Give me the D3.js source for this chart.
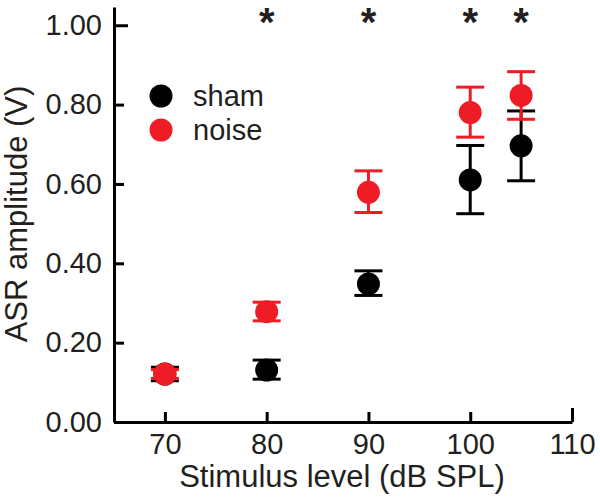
<!DOCTYPE html>
<html><head><meta charset="utf-8">
<script src="https://cdn.jsdelivr.net/npm/d3@7"></script>
<style>
body{margin:0;background:#fff;}
text{font-family:"Liberation Sans",Arial,sans-serif;fill:#231f20;}
</style></head>
<body><svg id="c" width="600" height="499"></svg>
<script>
const levels = [70, 80, 90, 100, 105];
const shamMean = [0.121, 0.131, 0.348, 0.610, 0.696];
const shamUpper = [0.138, 0.156, 0.381, 0.697, 0.784];
const shamLower = [0.104, 0.108, 0.319, 0.525, 0.608];
const noiseMean = [0.121, 0.278, 0.579, 0.780, 0.823];
const noiseUpper = [0.132, 0.302, 0.633, 0.844, 0.883];
const noiseLower = [0.110, 0.255, 0.528, 0.718, 0.763];
const signifLevels = [80, 90, 100, 105];
const xTicks = [70, 80, 90, 100, 110];
const yTicks = [0, 0.2, 0.4, 0.6, 0.8, 1.0];
const seriesNames = ["sham", "noise"];
const seriesColors = ["#000000", "#ee1c24"];

const series = [
  {name: seriesNames[0], color: seriesColors[0], mean: shamMean, up: shamUpper, lo: shamLower},
  {name: seriesNames[1], color: seriesColors[1], mean: noiseMean, up: noiseUpper, lo: noiseLower}
];

const svg = d3.select("#c");
const x = d3.scaleLinear().domain([65, 110]).range([114, 572]);
const y = d3.scaleLinear().domain([0, 1.046]).range([422, 7]);

// axes
const yAxis = d3.axisLeft(y).tickValues(yTicks).tickFormat(d3.format(".2f")).tickSizeInner(-10).tickSizeOuter(0).tickPadding(12);
const gy = svg.append("g").attr("transform", `translate(${x.range()[0]},0)`).call(yAxis);
const xAxis = d3.axisBottom(x).tickValues(xTicks).tickFormat(d3.format("d")).tickSizeInner(-10).tickSizeOuter(0).tickPadding(11);
const gx = svg.append("g").attr("transform", `translate(0,${y.range()[0]})`).call(xAxis);

[gx, gy].forEach(g => {
  g.select(".domain").attr("stroke", "#000").attr("stroke-width", 3);
  g.selectAll(".tick line").attr("stroke", "#000").attr("stroke-width", 3);
  g.selectAll(".tick text").style("font-size", "29px").attr("fill", "#231f20");
});
gy.selectAll(".tick line").filter(d => d === 1.0).attr("x2", 14);
gx.selectAll(".tick line").filter(d => d === 110).attr("y2", -14);

// axis titles
svg.append("text").attr("x", 342).attr("y", 487).attr("text-anchor", "middle")
  .style("font-size", "31px").text("Stimulus level (dB SPL)");
svg.append("text").attr("transform", "translate(27,214) rotate(-90)").attr("text-anchor", "middle")
  .style("font-size", "31px").text("ASR amplitude (V)");

// error bars + points
const capW = 14;
series.forEach(s => {
  const g = svg.append("g");
  levels.forEach((lv, i) => {
    const cx = x(lv);
    g.append("line").attr("x1", cx).attr("x2", cx).attr("y1", y(s.up[i])).attr("y2", y(s.lo[i]))
      .attr("stroke", s.color).attr("stroke-width", 3);
    [s.up[i], s.lo[i]].forEach(v => {
      g.append("line").attr("x1", cx - capW).attr("x2", cx + capW).attr("y1", y(v)).attr("y2", y(v))
        .attr("stroke", s.color).attr("stroke-width", 3);
    });
  });
  g.selectAll("circle").data(s.mean).join("circle")
    .attr("cx", (d, i) => x(levels[i])).attr("cy", d => y(d)).attr("r", 11.5).attr("fill", s.color);
});

// significance asterisks
svg.selectAll("text.star").data(signifLevels).join("text").attr("class", "star")
  .attr("x", d => x(d)).attr("y", 36).attr("text-anchor", "middle")
  .style("font-size", "40px").style("font-weight", "bold").text("*");

// legend
const leg = svg.append("g");
series.forEach((s, i) => {
  leg.append("circle").attr("cx", 161).attr("cy", 96 + i * 34).attr("r", 11.5).attr("fill", s.color);
  leg.append("text").attr("x", 193).attr("y", 96 + i * 34 + 10).style("font-size", "29px").text(s.name);
});
</script></body></html>
